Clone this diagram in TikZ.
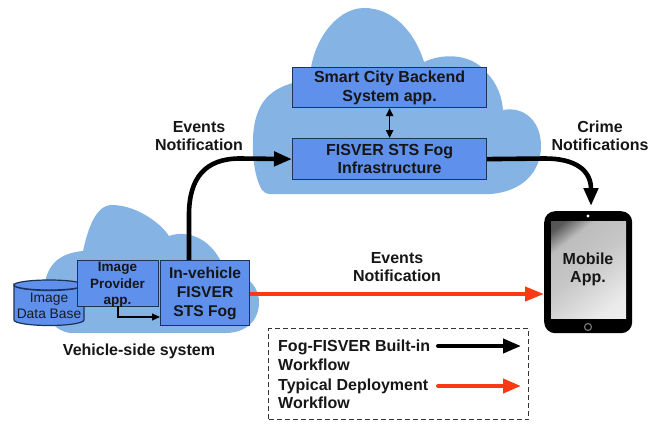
\documentclass[tikz,border=0pt]{standalone}
\usepackage{fontspec}
\setmainfont{Liberation Sans}
\usetikzlibrary{arrows.meta,shapes.geometric}
\definecolor{cloudblue}{HTML}{85B4E4}
\definecolor{boxblue}{HTML}{5E90EC}
\definecolor{boxline}{HTML}{1C3357}
\definecolor{redline}{HTML}{FB3A14}
\definecolor{ink}{HTML}{161616}
\pgfdeclareverticalshading{screenshade}{100bp}{%
  color(0bp)=(white!95!black);color(25bp)=(white!92!black);color(40bp)=(white!84!black);color(52bp)=(white!78!black);color(70bp)=(white!74!black);color(75bp)=(white!55!black);color(80bp)=(white!35!black);color(100bp)=(white!25!black)}
\tikzset{
  cloudshape/.style={fill=cloudblue,draw=none},
  appbox/.style={draw=boxline,line width=1.2pt,fill=boxblue,text=ink,align=center,inner sep=0pt,font=\bfseries},
  txtlabel/.style={text=ink,align=center,font=\fontsize{16}{18}\selectfont\bfseries,inner sep=0pt},
  blackflow/.style={line width=4.6pt,draw=black,-{Triangle[length=18pt,width=14pt]}},
  redflow/.style={line width=4pt,draw=redline,-{Triangle[length=19pt,width=14pt]}},
  legendtext/.style={text=ink,align=left,anchor=west,font=\fontsize{16}{18.5}\selectfont\bfseries,inner sep=0pt},
}
\begin{document}
\begin{tikzpicture}[x=1pt,y=-1pt]
\useasboundingbox (0,0) rectangle (660,423);
% upper cloud
\path[cloudshape] (262,190)
  .. controls (251,172) and (250,130) .. (258,112)
  .. controls (266,90) and (288,82) .. (310,80)
  .. controls (310,45) and (335,8) .. (364,8)
  .. controls (392,8) and (414,30) .. (424,62)
  .. controls (440,54) and (470,52) .. (486,72)
  .. controls (498,84) and (502,98) .. (503,110)
  .. controls (525,106) and (541,122) .. (541,146)
  .. controls (541,172) and (522,192) .. (490,194)
  -- (270,194) .. controls (266,194) and (264,192) .. (262,190) -- cycle;
% lower cloud
\path[cloudshape] (70,333)
  .. controls (50,330) and (42,310) .. (44,290)
  .. controls (46,262) and (62,253) .. (83,251)
  .. controls (88,228) and (96,205) .. (112,205)
  .. controls (135,205) and (160,222) .. (169,236)
  .. controls (185,230) and (215,235) .. (227,277)
  .. controls (250,272) and (260,290) .. (259,304)
  .. controls (258,322) and (245,333) .. (225,333)
  -- cycle;
% database
\path[fill=boxblue,draw=boxline,line width=1.2pt] (14,285) -- (14,320)
  arc[start angle=180,end angle=0,x radius=35,y radius=5.5] -- (84,285)
  arc[start angle=0,end angle=180,x radius=35,y radius=5.5] -- cycle;
\path[fill=boxblue,draw=boxline,line width=1.2pt] (49,285) ellipse[x radius=35,y radius=5];
\node[text=ink!80!boxline,align=center,font=\fontsize{13.8}{16}\selectfont,inner sep=0pt] (db) at (49,306) {Image\\Data Base};
% boxes
\node[appbox,minimum width=81pt,minimum height=46pt,anchor=north west] (provider) at (77,260) {};
\node[text=ink,align=center,font=\fontsize{13.5}{16.5}\selectfont\bfseries,inner sep=0pt] (providertext) at (117.5,285) {Image\\Provider\\app.};
\node[appbox,minimum width=89pt,minimum height=65pt,anchor=north west,font=\fontsize{15.6}{19}\selectfont\bfseries] (fogv) at (160,260) {In-vehicle\\FISVER\\STS Fog};
\node[appbox,minimum width=194pt,minimum height=40pt,anchor=north west,font=\fontsize{16}{19}\selectfont\bfseries] (backend) at (292,67) {Smart City Backend\\System app.};
\node[appbox,minimum width=194pt,minimum height=41pt,anchor=north west,font=\fontsize{16}{18.5}\selectfont\bfseries] (infra) at (292,138) {FISVER STS Fog\\Infrastructure};
% phone
\node[draw=none,fill=black,rounded corners=11pt,minimum width=88pt,minimum height=122pt,inner sep=0pt,anchor=north west] (phone) at (544,211) {};
\path[shading=screenshade,shading angle=38] (551,221) rectangle (626,318);
\node[fill=white,circle,minimum size=3.2pt,inner sep=0pt] (cam) at (588,216) {};
\node[draw=white!45!black,fill=black,circle,line width=1.2pt,minimum size=7pt,inner sep=0pt] (homebtn) at (588,327) {};
\node[txtlabel] (mobile) at (588,269.5) {Mobile\\App.};
% connectors
\coordinate (provout) at (118,306);
\coordinate (provbend) at (118,317);
\coordinate (fogin) at (fogv.west |- provbend);
\draw[draw=black,line width=1.1pt,-{Triangle[length=8pt,width=7pt]}] (provout) -- (provbend) -- (fogin);
\draw[black,line width=1.1pt,{Triangle[length=8pt,width=7.5pt]}-{Triangle[length=8pt,width=7.5pt]}] (backend.south) -- (infra.north);
\coordinate (vout) at (189,260);
\draw[blackflow] (vout) -- (189,215) .. controls (189,178) and (205,158.5) .. (240,158.5) -- (infra.west);
\coordinate (mobin) at (591,206);
\draw[blackflow] (infra.east) -- (545,158.5) .. controls (575,158.5) and (591,170) .. (mobin);
\coordinate (redtip) at (544,294);
\draw[redflow] (fogv.east |- redtip) -- (redtip);
% labels
\node[txtlabel] (evt1) at (199,136) {Events\\Notification};
\node[txtlabel] (crime) at (600,136) {Crime\\Notifications};
\node[txtlabel] (evt2) at (397,267) {Events\\Notification};
\node[txtlabel] (vehicle) at (139,351) {Vehicle-side system};
% legend
\node[draw=black!80,dash pattern=on 5pt off 3pt,line width=1.3pt,minimum width=260pt,minimum height=91pt,anchor=north west,inner sep=0pt] (legend) at (268,328) {};
\node[legendtext] (legblack) at (278,355.5) {Fog-FISVER Built-in\\Workflow};
\node[legendtext] (legred) at (278,394) {Typical Deployment\\Workflow};
\coordinate (ka) at (438,346); \coordinate (kb) at (521,346);
\coordinate (ra) at (438,386); \coordinate (rb) at (521,386);
\draw[line width=4pt,line cap=round,-{Triangle[length=18pt,width=14pt]}] (ka) -- (kb);
\draw[line width=4pt,line cap=round,draw=redline,-{Triangle[length=18pt,width=14pt]}] (ra) -- (rb);
\end{tikzpicture}
\end{document}
